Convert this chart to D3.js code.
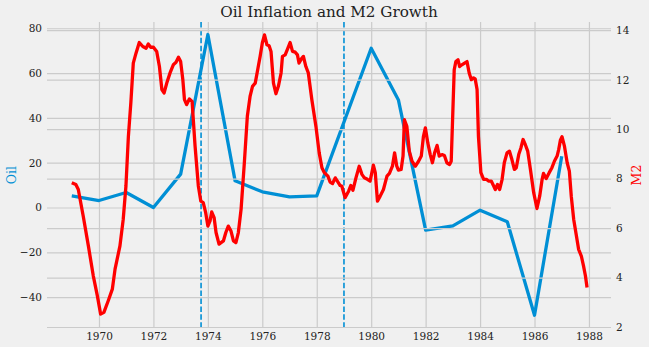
<!DOCTYPE html>
<html>
<head>
<meta charset="utf-8">
<script src="https://cdn.jsdelivr.net/npm/d3@7"></script>
<style>
  html, body { margin: 0; padding: 0; background: #f0f0f0; }
  svg { display: block; }
</style>
</head>
<body>
<svg id="chart" width="649" height="347"></svg>
<script>
// Annual oil price inflation (%), left axis
const oilYears  = [1969, 1970, 1971, 1972, 1973, 1974, 1975, 1976, 1977, 1978, 1980, 1981, 1982, 1983, 1984, 1985, 1986, 1987];
const oilValues = [5.2, 3.1, 6.7, 0.0, 14.9, 77.2, 11.9, 7.0, 4.7, 5.2, 71.1, 48.0, -10.1, -8.2, -1.2, -6.4, -48.1, 22.9];

// Monthly M2 growth (%), right axis
const m2Years = [
  1969.00, 1969.15, 1969.24, 1969.42, 1969.61, 1969.79, 1969.94, 1970.06, 1970.18, 1970.34,
  1970.49, 1970.59, 1970.77, 1970.89, 1970.99, 1971.08, 1971.17, 1971.26, 1971.36, 1971.48,
  1971.61, 1971.73, 1971.81, 1971.90, 1972.00, 1972.12, 1972.22, 1972.31, 1972.39, 1972.49,
  1972.61, 1972.73, 1972.83, 1972.92, 1973.00, 1973.08, 1973.14, 1973.22, 1973.32, 1973.42,
  1973.53, 1973.65, 1973.74, 1973.83, 1973.92, 1974.00, 1974.08, 1974.14, 1974.23, 1974.30,
  1974.41, 1974.57, 1974.66, 1974.75, 1974.85, 1974.94, 1975.03, 1975.12, 1975.22, 1975.34,
  1975.45, 1975.55, 1975.64, 1975.74, 1975.83, 1975.92, 1976.00, 1976.08, 1976.17, 1976.25,
  1976.32, 1976.41, 1976.50, 1976.59, 1976.69, 1976.74, 1976.84, 1976.94, 1977.02, 1977.11,
  1977.21, 1977.29, 1977.35, 1977.43, 1977.51, 1977.60, 1977.69, 1977.82, 1977.97, 1978.09,
  1978.19, 1978.28, 1978.41, 1978.49, 1978.58, 1978.68, 1978.78, 1978.86, 1978.92, 1979.04,
  1979.17, 1979.25, 1979.33, 1979.44, 1979.56, 1979.66, 1979.75, 1979.86, 1979.96, 1980.08,
  1980.15, 1980.23, 1980.33, 1980.45, 1980.58, 1980.67, 1980.78, 1980.86, 1980.94, 1981.00,
  1981.10, 1981.17, 1981.22, 1981.31, 1981.40, 1981.50, 1981.62, 1981.74, 1981.84, 1981.92,
  1981.99, 1982.08, 1982.17, 1982.25, 1982.33, 1982.42, 1982.50, 1982.60, 1982.69, 1982.78,
  1982.88, 1982.94, 1982.99, 1983.05, 1983.11, 1983.19, 1983.25, 1983.33, 1983.43, 1983.52,
  1983.60, 1983.68, 1983.76, 1983.82, 1983.89, 1983.94, 1984.03, 1984.13, 1984.23, 1984.31,
  1984.41, 1984.50, 1984.56, 1984.64, 1984.72, 1984.81, 1984.89, 1984.99, 1985.08, 1985.17,
  1985.26, 1985.33, 1985.42, 1985.50, 1985.58, 1985.66, 1985.75, 1985.85, 1985.97, 1986.09,
  1986.19, 1986.28, 1986.33, 1986.43, 1986.54, 1986.64, 1986.73, 1986.83, 1986.89, 1986.95,
  1987.01, 1987.10, 1987.20, 1987.28, 1987.35, 1987.44, 1987.54, 1987.62, 1987.72, 1987.80,
  1987.87, 1987.93
];
const m2Values = [
  7.83, 7.76, 7.56, 6.49, 5.28, 4.07, 3.26, 2.52, 2.59, 3.06,
  3.53, 4.34, 5.28, 6.35, 7.70, 9.71, 11.06, 12.67, 13.07, 13.50,
  13.34, 13.27, 13.44, 13.31, 13.31, 13.14, 12.53, 11.60, 11.46, 11.86,
  12.27, 12.60, 12.70, 12.91, 12.73, 12.00, 11.19, 10.99, 11.22, 11.12,
  9.31, 7.70, 7.09, 7.03, 6.62, 6.08, 6.29, 6.65, 6.42, 5.82,
  5.35, 5.48, 5.82, 6.08, 5.88, 5.48, 5.41, 5.82, 6.76, 8.64,
  10.52, 11.32, 11.73, 11.86, 12.40, 12.94, 13.48, 13.81, 13.41, 13.37,
  13.14, 11.86, 11.43, 11.73, 12.27, 12.94, 13.00, 13.27, 13.50, 13.14,
  13.11, 13.00, 12.67, 12.83, 12.94, 12.53, 12.27, 11.19, 10.11, 9.04,
  8.44, 8.24, 8.10, 7.86, 7.80, 8.03, 7.86, 7.72, 7.70, 7.23,
  7.49, 7.72, 7.53, 8.03, 8.50, 8.17, 8.03, 7.97, 7.90, 8.54,
  8.24, 7.09, 7.29, 7.56, 8.10, 8.21, 8.50, 9.04, 8.50, 8.34,
  8.37, 8.91, 10.38, 10.11, 9.11, 8.70, 8.50, 8.70, 8.91, 9.71,
  10.05, 9.44, 8.97, 8.64, 9.04, 9.34, 8.91, 8.97, 8.93, 8.64,
  8.57, 8.70, 10.38, 12.40, 12.73, 12.80, 12.53, 12.60, 12.67, 12.73,
  12.27, 12.00, 12.07, 12.03, 11.60, 9.71, 8.24, 7.97, 7.97, 7.90,
  7.90, 7.70, 7.56, 7.76, 7.56, 7.97, 8.64, 9.04, 9.11, 8.77,
  8.37, 8.44, 8.97, 9.24, 9.58, 9.38, 9.11, 8.37, 7.43, 6.79,
  7.29, 7.97, 8.21, 8.00, 8.24, 8.44, 8.70, 8.91, 9.18, 9.55,
  9.69, 9.31, 8.64, 8.30, 7.29, 6.35, 5.68, 5.14, 4.87, 4.47,
  4.07, 3.60
];

// Event markers (decimal years)
const eventYears = [1973.75, 1979.0];

// Tick values
const xTicks = [1970, 1972, 1974, 1976, 1978, 1980, 1982, 1984, 1986, 1988];
const oilTicks = [-40, -20, 0, 20, 40, 60, 80];
const m2Ticks = [2, 4, 6, 8, 10, 12, 14];

const title = "Oil Inflation and M2 Growth";

// Layout
const W = 649, H = 347;
const plot = { left: 47, right: 611, top: 22, bottom: 328 };
const BLUE = "#008fd5", RED = "#ff0000", GRID = "#cbcbcb";
const FONT = "'DejaVu Serif', serif";

const svg = d3.select("#chart");
svg.append("rect").attr("width", W).attr("height", H).attr("fill", "#f0f0f0");

const x = d3.scaleLinear().domain([1968.09, 1988.81]).range([plot.left, plot.right]);
const yOil = d3.scaleLinear().domain([-53.8, 82.8]).range([plot.bottom, plot.top]);
const yM2 = d3.scaleLinear().domain([1.96, 14.33]).range([plot.bottom, plot.top]);

const plotW = plot.right - plot.left, plotH = plot.bottom - plot.top;

function styleGrid(g) {
  g.select(".domain").remove();
  g.selectAll(".tick line").attr("stroke", GRID).attr("stroke-width", 1.2);
  g.selectAll(".tick text").remove();
}

// Vertical grid
svg.append("g")
  .attr("transform", `translate(0,${plot.bottom})`)
  .call(d3.axisBottom(x).tickValues(xTicks).tickSize(-plotH).tickFormat(""))
  .call(styleGrid);

// Left horizontal grid
svg.append("g")
  .attr("transform", `translate(${plot.left},0)`)
  .call(d3.axisLeft(yOil).tickValues(oilTicks).tickSize(-plotW).tickFormat(""))
  .call(styleGrid);

// Oil line
const oilData = oilYears.map((yr, i) => [yr, oilValues[i]]);
svg.append("path")
  .datum(oilData)
  .attr("fill", "none")
  .attr("stroke", BLUE)
  .attr("stroke-width", 3.3)
  .attr("stroke-linejoin", "round")
  .attr("stroke-linecap", "butt")
  .attr("d", d3.line().x(d => x(d[0])).y(d => yOil(d[1])));

// Event markers
svg.selectAll("line.event")
  .data(eventYears)
  .join("line")
  .attr("class", "event")
  .attr("x1", d => x(d)).attr("x2", d => x(d))
  .attr("y1", plot.top).attr("y2", plot.bottom)
  .attr("stroke", BLUE)
  .attr("stroke-width", 1.6)
  .attr("stroke-dasharray", "5.5,2.4");

// Right horizontal grid (second axis drawn over the first)
svg.append("g")
  .attr("transform", `translate(${plot.left},0)`)
  .call(d3.axisLeft(yM2).tickValues(m2Ticks).tickSize(-plotW).tickFormat(""))
  .call(styleGrid);

// M2 line
const m2Data = m2Years.map((yr, i) => [yr, m2Values[i]]);
svg.append("path")
  .datum(m2Data)
  .attr("fill", "none")
  .attr("stroke", RED)
  .attr("stroke-width", 3.3)
  .attr("stroke-linejoin", "round")
  .attr("stroke-linecap", "butt")
  .attr("d", d3.line().x(d => x(d[0])).y(d => yM2(d[1])));

// Tick labels
function styleLabels(g) {
  g.select(".domain").remove();
  g.selectAll(".tick line").remove();
  g.selectAll(".tick text")
    .attr("font-family", FONT)
    .attr("font-size", 10.5)
    .attr("fill", "#222");
}

svg.append("g")
  .attr("transform", `translate(0,${plot.bottom})`)
  .call(d3.axisBottom(x).tickValues(xTicks).tickSize(0).tickPadding(5).tickFormat(d3.format("d")))
  .call(styleLabels);

svg.append("g")
  .attr("transform", `translate(${plot.left},0)`)
  .call(d3.axisLeft(yOil).tickValues(oilTicks).tickSize(0).tickPadding(5)
    .tickFormat(d => d < 0 ? "\u2212" + Math.abs(d) : String(d)))
  .call(styleLabels);

svg.append("g")
  .attr("transform", `translate(${plot.right},0)`)
  .call(d3.axisRight(yM2).tickValues(m2Ticks).tickSize(0).tickPadding(5).tickFormat(d3.format("d")))
  .call(styleLabels);

// Axis titles
const midY = (plot.top + plot.bottom) / 2;
svg.append("text")
  .attr("transform", `translate(16,${midY}) rotate(-90)`)
  .attr("text-anchor", "middle")
  .attr("font-family", FONT)
  .attr("font-size", 12.5)
  .attr("fill", BLUE)
  .text("Oil");

svg.append("text")
  .attr("transform", `translate(641,${midY}) rotate(-90)`)
  .attr("text-anchor", "middle")
  .attr("font-family", FONT)
  .attr("font-size", 12.5)
  .attr("fill", RED)
  .text("M2");

// Title
svg.append("text")
  .attr("x", (plot.left + plot.right) / 2)
  .attr("y", 17)
  .attr("text-anchor", "middle")
  .attr("font-family", FONT)
  .attr("font-size", 15.2)
  .attr("fill", "#222")
  .text(title);
</script>
</body>
</html>
